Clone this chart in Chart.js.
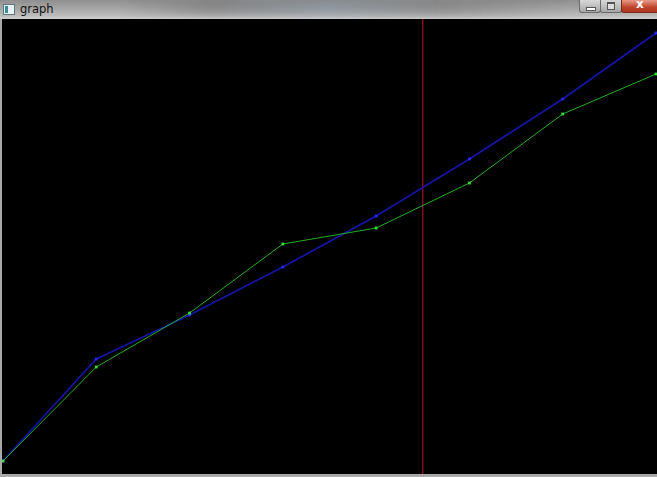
<!DOCTYPE html>
<html>
<head>
<meta charset="utf-8">
<script src="https://cdn.jsdelivr.net/npm/chart.js@4"></script>
<style>
  html, body { margin:0; padding:0; width:657px; height:477px; overflow:hidden; background:#b4b4b4; }
  #titlebar { position:absolute; left:0; top:0; width:657px; height:19px;
    background: linear-gradient(to bottom, #8f8f8f 0%, #a6a6a6 45%, #bdbdbd 85%, #d0d0d0 100%); }
  #blur { position:absolute; left:120px; top:0; width:460px; height:16px;
    background: linear-gradient(to right, rgba(120,120,120,0) 0%, rgba(90,90,90,0.35) 20%, rgba(110,130,150,0.35) 45%, rgba(90,90,90,0.3) 70%, rgba(120,120,120,0) 100%); filter: blur(3px); }
  #icon { position:absolute; left:3px; top:4px; width:10px; height:9px; background:#e8f0f0; border:1px solid #5a7a80; }
  #icon::after { content:""; position:absolute; left:1px; top:1px; width:3px; height:7px; background:#3a8a9a; }
  #title { position:absolute; left:20px; top:1px; font-family:"DejaVu Sans", sans-serif; font-size:11.5px; color:#111; line-height:16px; }
  .btn { position:absolute; top:0; height:12px; border:1px solid #6a6a6a; border-top:none; border-radius:0 0 3px 3px;
    background: linear-gradient(to bottom, #d8d8d8, #a8a8a8); }
  #bmin { left:579px; width:20px; }
  #bmax { left:600px; width:20px; }
  #bclose { left:621px; width:38px; background: linear-gradient(to bottom, #e89a88, #c0442c 60%, #b03820); border-color:#7a2a1a; }
  #bmin::after { content:""; position:absolute; left:6px; top:7px; width:8px; height:2px; background:#fff; border:1px solid #555; }
  #bmax::after { content:""; position:absolute; left:6px; top:2px; width:6px; height:5px; border:1px solid #555; border-top:2px solid #555; background:#ddd; }
  #bclose::after { content:"x"; position:absolute; left:14px; top:-3px; font:bold 12px "DejaVu Sans", sans-serif; color:#fff; }
  #frame { position:absolute; left:0; top:19px; width:657px; height:458px; background:#a9a9a9; }
  #plot { position:absolute; left:2px; top:19px; width:655px; height:455px; background:#000; }
  #plot canvas { position:absolute; left:0; top:0; }
</style>
</head>
<body>
<div id="titlebar"><div id="blur"></div><div id="icon"></div><div id="title">graph</div>
  <div class="btn" id="bmin"></div><div class="btn" id="bmax"></div><div class="btn" id="bclose"></div></div>
<div id="frame"></div>
<div id="plot"><canvas id="c" width="655" height="455"></canvas></div>
<script>
// data
const xIndex = [0, 1, 2, 3, 4, 5, 6, 7];
const blueValues = [13, 115, 159, 207, 258, 315, 375, 441];
const greenValues = [13, 107, 161, 230, 246, 291, 360, 400];
const markerX = 4.5;
const markerY = [0, 455];

const toPts = (xs, ys) => xs.map((x, i) => ({ x: x, y: ys[i] }));

new Chart(document.getElementById('c'), {
  type: 'line',
  data: {
    datasets: [
      {
        label: 'marker',
        data: markerY.map(y => ({ x: markerX, y: y })),
        borderColor: '#b01616',
        borderWidth: 1.1,
        pointRadius: 0,
        clip: false,
        order: 3
      },
      {
        label: 'blue',
        data: toPts(xIndex, blueValues),
        borderColor: '#1414a8',
        backgroundColor: '#2626ff',
        borderWidth: 1.7,
        pointStyle: 'rect',
        pointRadius: 2,
        pointBorderWidth: 0,
        clip: false,
        order: 2
      },
      {
        label: 'green',
        data: toPts(xIndex, greenValues),
        borderColor: '#22b022',
        backgroundColor: '#30e030',
        borderWidth: 1,
        pointStyle: 'rect',
        pointRadius: 2,
        pointBorderWidth: 0,
        clip: false,
        order: 1
      }
    ]
  },
  options: {
    responsive: false,
    animation: false,
    devicePixelRatio: 1,
    layout: { padding: 0, autoPadding: false },
    plugins: { legend: { display: false }, tooltip: { enabled: false }, title: { display: false } },
    elements: { line: { tension: 0 } },
    scales: {
      x: { type: 'linear', min: -0.0107, max: 7.0107, display: false },
      y: { type: 'linear', min: 0, max: 455, display: false }
    }
  }
});
</script>
</body>
</html>
